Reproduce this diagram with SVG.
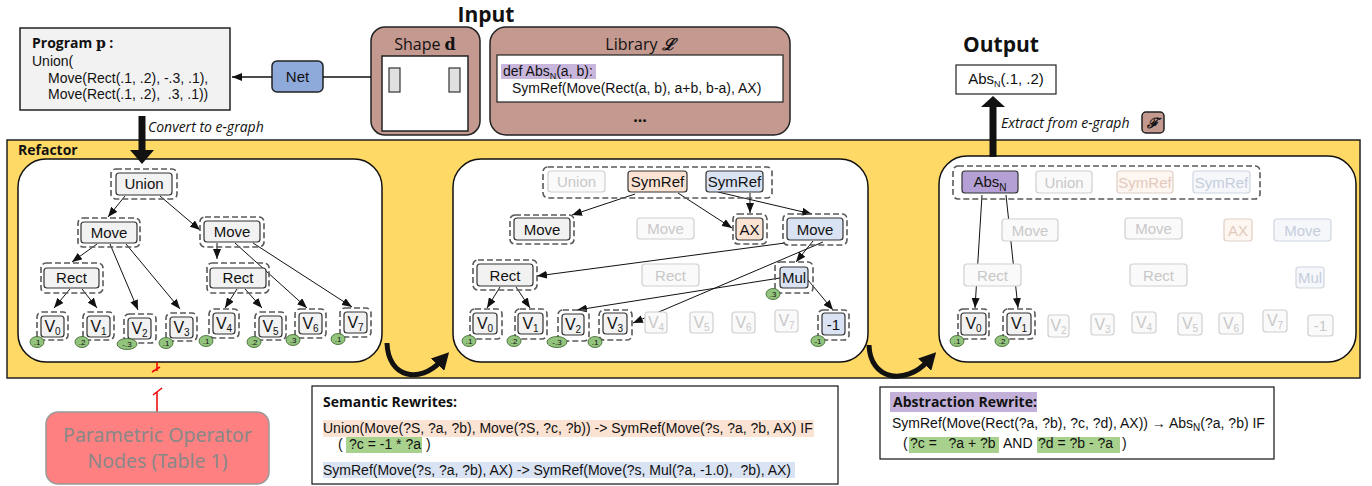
<svg xmlns="http://www.w3.org/2000/svg" width="1372" height="486" viewBox="0 0 1372 486">
<defs>
<marker id="a" markerUnits="userSpaceOnUse" markerWidth="10" markerHeight="8" refX="10" refY="4" orient="auto"><path d="M0,0 L10,4 L0,8 z" fill="#111"/></marker>
<marker id="b" markerUnits="userSpaceOnUse" markerWidth="18" markerHeight="18" refX="5" refY="9" orient="auto"><path d="M0,0 L17,9 L0,18 z" fill="#111"/></marker>
<style>
.n{fill:#f2f2f2;stroke:#333;stroke-width:1.2}
.g{fill:none;stroke:#595959;stroke-width:1.6;stroke-dasharray:6 3}
.fd{fill:#fafafa;stroke:#cfcfcf;stroke-width:1.2}
.fo{fill:#fef6f1;stroke:#e0d0c7;stroke-width:1.2}
.fb{fill:#f5f7fb;stroke:#d0d5df;stroke-width:1.2}
.o{fill:#fbe3d4;stroke:#333;stroke-width:1.2}
.bl{fill:#dae3f3;stroke:#333;stroke-width:1.2}
.t{font-family:"Liberation Sans",Arial,sans-serif;font-size:15px;text-anchor:middle;fill:#111}
.tf{fill:#c8c8c8}
.tfo{fill:#e2cabd}
.tfb{fill:#c6cedc}
.v{font-size:16px}
.e{fill:#93c47d;stroke:#38612a;stroke-width:0.8}
.et{font-family:"Liberation Sans",Arial,sans-serif;font-size:8px;text-anchor:middle;fill:#111}
.ed{fill:none;stroke:#111;stroke-width:1;marker-end:url(#a)}
.h{font-family:"Open Sans","Noto Sans",sans-serif;font-weight:bold;fill:#111}
.c{font-family:"Liberation Sans",Arial,sans-serif;font-size:14px;fill:#111}
.it{font-family:"Open Sans","Noto Sans",sans-serif;font-style:italic;font-size:14px;fill:#111}
</style>
</defs>

<g id="refactor">
<rect x="7" y="140" width="1353" height="238" fill="#ffd966" stroke="#222" stroke-width="1.5"/>
<text class="h" x="18" y="155" font-size="14">Refactor</text>
<rect x="18" y="159" width="364" height="203" rx="28" fill="#fff" stroke="#111" stroke-width="1.5"/>
<rect x="453" y="159" width="415" height="203" rx="28" fill="#fff" stroke="#111" stroke-width="1.5"/>
<rect x="939" y="156" width="417" height="206" rx="28" fill="#fff" stroke="#111" stroke-width="1.5"/>
</g>

<g id="program">
<rect x="20" y="28" width="210" height="82" fill="#f2f2f2" stroke="#222" stroke-width="1.5"/>
<text class="h" x="32" y="48" font-size="14">Program <tspan font-family="'DejaVu Serif',serif">p</tspan> :</text>
<text class="c" x="32" y="66" font-size="13">Union(</text>
<text class="c" x="48" y="83" font-size="13">Move(Rect(.1, .2), -.3, .1),</text>
<text class="c" x="48" y="99" font-size="13" xml:space="preserve">Move(Rect(.1, .2),  .3, .1))</text>
</g>
<g id="net">
<rect x="272" y="61" width="51" height="31" rx="5" fill="#8eaadb" stroke="#222" stroke-width="1.5"/>
<text class="t" x="297.5" y="82" font-size="14">Net</text>
</g>
<g id="input">
<text class="h" x="486" y="22" font-size="21" text-anchor="middle">Input</text>
</g>
<g id="shape">
<rect x="371" y="27" width="109" height="108" rx="14" fill="#c4998f" stroke="#222" stroke-width="1.5"/>
<text x="425" y="50" font-family="'Open Sans',sans-serif" font-size="16" text-anchor="middle" fill="#111">Shape <tspan font-family="'DejaVu Serif',serif" font-weight="bold">d</tspan></text>
<rect x="382" y="56" width="86" height="75" fill="#fff" stroke="#222" stroke-width="1.5"/>
<rect x="389" y="68" width="11" height="24" fill="#e0e0e0" stroke="#333" stroke-width="1.2"/>
<rect x="449" y="68" width="11" height="24" fill="#e0e0e0" stroke="#333" stroke-width="1.2"/>
</g>
<g id="library">
<rect x="490" y="27" width="300" height="108" rx="16" fill="#c4998f" stroke="#222" stroke-width="1.5"/>
<text x="640" y="50" font-family="'Open Sans',sans-serif" font-size="16" text-anchor="middle" fill="#111">Library <tspan font-family="'DejaVu Serif',serif" font-weight="bold" font-style="italic">ℒ</tspan></text>
<rect x="497" y="55" width="286" height="47" fill="#fff" stroke="#222" stroke-width="1.2"/>
<rect x="501" y="64" width="95" height="15" fill="#c9b6dd"/>
<text class="c" x="503" y="76" font-size="13">def Abs<tspan font-size="9" dy="3">N</tspan><tspan dy="-3">(a, b):</tspan></text>
<text class="c" x="512" y="93" font-size="13">SymRef(Move(Rect(a, b), a+b, b-a), AX)</text>
<text class="h" x="640" y="122" font-size="16" text-anchor="middle">...</text>
</g>
<g id="output">
<text class="h" x="1001" y="52" font-size="21" text-anchor="middle">Output</text>
<rect x="956" y="65" width="100" height="29" fill="#fff" stroke="#222" stroke-width="1.2"/>
<text class="t" x="1006" y="84" font-size="13">Abs<tspan font-size="9" dy="3">N</tspan><tspan dy="-3">(.1, .2)</tspan></text>
</g>
<g id="extractor">
<rect x="1142" y="112" width="22" height="21" rx="4" fill="#c4998f" stroke="#222" stroke-width="1.5"/>
<text x="1153" y="128" font-family="'DejaVu Serif',serif" font-weight="bold" font-style="italic" font-size="14" text-anchor="middle" fill="#111">ℱ</text>
</g>

<g id="connectors">
<line x1="371" y1="77" x2="323" y2="77" stroke="#111" stroke-width="1.5"/>
<line x1="272" y1="77" x2="232" y2="77" stroke="#111" stroke-width="1.5" marker-end="url(#a)"/>
<line x1="142" y1="116" x2="142" y2="151" stroke="#111" stroke-width="7"/>
<polygon points="130,150 154,150 142,164" fill="#111"/>
<text class="it" x="148" y="132">Convert to e-graph</text>
<line x1="993" y1="157" x2="993" y2="106" stroke="#111" stroke-width="7"/>
<polygon points="981,107 1005,107 993,96" fill="#111"/>
<text class="it" x="1001" y="128">Extract from e-graph</text>
<path d="M387,343 C388,378 420,384 441,361" fill="none" stroke="#111" stroke-width="5" marker-end="url(#b)"/>
<path d="M869,345 C870,380 905,386 928,361" fill="none" stroke="#111" stroke-width="5" marker-end="url(#b)"/>
<path d="M157,412 L157,392 M153,395 L162,388" fill="none" stroke="#e00" stroke-width="1.5"/>
<path d="M157,362 L157,371 M152,372 L160,367" fill="none" stroke="#e00" stroke-width="1.5"/>
<line class="ed" x1="125" y1="196" x2="108" y2="217"/>
<line class="ed" x1="160" y1="196" x2="200" y2="230"/>
<line class="ed" x1="97" y1="244" x2="72" y2="262"/>
<line class="ed" x1="110" y1="244" x2="138" y2="310"/>
<line class="ed" x1="126" y1="244" x2="180" y2="309"/>
<line class="ed" x1="217" y1="243" x2="217" y2="259"/>
<line class="ed" x1="235" y1="243" x2="307" y2="308"/>
<line class="ed" x1="253" y1="243" x2="352" y2="307"/>
<line class="ed" x1="70" y1="289" x2="54" y2="308"/>
<line class="ed" x1="82" y1="289" x2="97" y2="308"/>
<line class="ed" x1="237" y1="289" x2="225" y2="308"/>
<line class="ed" x1="245" y1="289" x2="262" y2="308"/>
<line class="ed" x1="635" y1="194" x2="572" y2="215"/>
<line class="ed" x1="678" y1="193" x2="732" y2="228"/>
<line class="ed" x1="750" y1="193" x2="750" y2="213"/>
<line class="ed" x1="718" y1="192" x2="812" y2="214"/>
<line class="ed" x1="785" y1="243" x2="537" y2="276"/>
<line class="ed" x1="813" y1="241" x2="796" y2="262"/>
<line class="ed" x1="823" y1="242" x2="633" y2="323"/>
<line class="ed" x1="780" y1="278" x2="577" y2="310"/>
<line class="ed" x1="808" y1="280" x2="833" y2="310"/>
<line class="ed" x1="500" y1="287" x2="487" y2="308"/>
<line class="ed" x1="516" y1="287" x2="530" y2="308"/>
<line class="ed" x1="982" y1="195" x2="975" y2="308"/>
<line class="ed" x1="1006" y1="195" x2="1018" y2="308"/>
</g>

<g id="L-union"><rect class="g" x="111" y="169" width="66" height="30" rx="5"/><rect class="n" x="116" y="173" width="56" height="22" rx="3"/><text class="t" x="144" y="189">Union</text></g>
<g id="L-move1"><rect class="g" x="78" y="218" width="62" height="29" rx="5"/><rect class="n" x="81" y="222" width="56" height="21" rx="3"/><text class="t" x="109" y="238">Move</text></g>
<g id="L-move2"><rect class="g" x="200" y="217" width="64" height="30" rx="5"/><rect class="n" x="204" y="221" width="56" height="21" rx="3"/><text class="t" x="232" y="237">Move</text></g>
<g id="L-rect1"><rect class="g" x="41" y="263" width="62" height="30" rx="5"/><rect class="n" x="44" y="268" width="55" height="20" rx="3"/><text class="t" x="71.5" y="283">Rect</text></g>
<g id="L-rect2"><rect class="g" x="207" y="263" width="62" height="30" rx="5"/><rect class="n" x="210" y="268" width="56" height="20" rx="3"/><text class="t" x="238" y="283">Rect</text></g>
<g id="L-v0"><rect class="g" x="37" y="312" width="31" height="28" rx="5"/><rect class="n" x="41" y="316" width="23" height="21" rx="3"/><text class="t v" x="52.5" y="332">V<tspan font-size="10" dy="3">0</tspan></text><ellipse class="e" cx="37" cy="342" rx="7" ry="5.5"/><text class="et" x="37" y="345">.1</text></g>
<g id="L-v1"><rect class="g" x="83" y="312" width="31" height="28" rx="5"/><rect class="n" x="87" y="316" width="23" height="21" rx="3"/><text class="t v" x="98.5" y="332">V<tspan font-size="10" dy="3">1</tspan></text><ellipse class="e" cx="82" cy="342" rx="7" ry="5.5"/><text class="et" x="82" y="345">.2</text></g>
<g id="L-v2"><rect class="g" x="124" y="314" width="32" height="29" rx="5"/><rect class="n" x="128" y="318" width="23" height="21" rx="3"/><text class="t v" x="139.5" y="334">V<tspan font-size="10" dy="3">2</tspan></text><ellipse class="e" cx="127" cy="344" rx="10" ry="5.5"/><text class="et" x="127" y="347">-.3</text></g>
<g id="L-v3"><rect class="g" x="166" y="313" width="31" height="28" rx="5"/><rect class="n" x="170" y="317" width="23" height="21" rx="3"/><text class="t v" x="181.5" y="333">V<tspan font-size="10" dy="3">3</tspan></text><ellipse class="e" cx="166" cy="343" rx="7" ry="5.5"/><text class="et" x="166" y="346">.1</text></g>
<g id="L-v4"><rect class="g" x="209" y="309" width="30" height="29" rx="5"/><rect class="n" x="213" y="313" width="22" height="21" rx="3"/><text class="t v" x="224" y="329">V<tspan font-size="10" dy="3">4</tspan></text><ellipse class="e" cx="206" cy="341" rx="7" ry="5.5"/><text class="et" x="206" y="344">.1</text></g>
<g id="L-v5"><rect class="g" x="255" y="312" width="31" height="28" rx="5"/><rect class="n" x="259" y="316" width="23" height="21" rx="3"/><text class="t v" x="270.5" y="332">V<tspan font-size="10" dy="3">5</tspan></text><ellipse class="e" cx="254" cy="342" rx="7" ry="5.5"/><text class="et" x="254" y="345">.2</text></g>
<g id="L-v6"><rect class="g" x="295" y="309" width="31" height="29" rx="5"/><rect class="n" x="299" y="313" width="23" height="21" rx="3"/><text class="t v" x="310.5" y="329">V<tspan font-size="10" dy="3">6</tspan></text><ellipse class="e" cx="293" cy="340" rx="7" ry="5.5"/><text class="et" x="293" y="343">.3</text></g>
<g id="L-v7"><rect class="g" x="340" y="308" width="31" height="29" rx="5"/><rect class="n" x="344" y="312" width="23" height="21" rx="3"/><text class="t v" x="355.5" y="328">V<tspan font-size="10" dy="3">7</tspan></text><ellipse class="e" cx="338" cy="339" rx="7" ry="5.5"/><text class="et" x="338" y="342">.1</text></g>

<g id="M-top"><rect class="g" x="543" y="167" width="229" height="31" rx="5"/>
<rect class="fd" x="548" y="171" width="57" height="21" rx="3"/><text class="t tf" x="576.5" y="187">Union</text>
<rect class="o" x="628" y="171" width="59" height="21" rx="3"/><text class="t" x="657.5" y="187" font-size="14">SymRef</text>
<rect class="bl" x="706" y="171" width="57" height="21" rx="3"/><text class="t" x="734.5" y="187" font-size="14">SymRef</text></g>
<g id="M-move1"><rect class="g" x="510" y="215" width="64" height="29" rx="5"/><rect class="n" x="514" y="218" width="56" height="22" rx="3"/><text class="t" x="542" y="235">Move</text></g>
<g id="M-move2"><rect class="fd" x="637" y="218" width="57" height="21" rx="3"/><text class="t tf" x="665.5" y="234">Move</text></g>
<g id="M-ax"><rect class="g" x="733" y="214" width="34" height="30" rx="5"/><rect class="o" x="736" y="218" width="27" height="22" rx="3"/><text class="t" x="749.5" y="235">AX</text></g>
<g id="M-move3"><rect class="g" x="783" y="214" width="64" height="31" rx="5"/><rect class="bl" x="787" y="218" width="56" height="22" rx="3"/><text class="t" x="815" y="235">Move</text></g>
<g id="M-rect1"><rect class="g" x="473" y="260" width="64" height="30" rx="5"/><rect class="n" x="477" y="264" width="56" height="22" rx="3"/><text class="t" x="505" y="281">Rect</text></g>
<g id="M-rect2"><rect class="fd" x="642" y="264" width="57" height="22" rx="3"/><text class="t tf" x="670.5" y="281">Rect</text></g>
<g id="M-mul"><rect class="g" x="775" y="262" width="38" height="31" rx="5"/><rect class="bl" x="780" y="267" width="28" height="21" rx="3"/><text class="t" x="794" y="283">Mul</text><ellipse class="e" cx="773" cy="294" rx="7" ry="5.5"/><text class="et" x="773" y="297">.3</text></g>
<g id="M-v0"><rect class="g" x="470" y="309" width="32" height="30" rx="5"/><rect class="n" x="473" y="313" width="24" height="21" rx="3"/><text class="t v" x="485" y="329">V<tspan font-size="10" dy="3">0</tspan></text><ellipse class="e" cx="469" cy="341" rx="7" ry="5.5"/><text class="et" x="469" y="344">.1</text></g>
<g id="M-v1"><rect class="g" x="515" y="309" width="32" height="30" rx="5"/><rect class="n" x="518" y="313" width="25" height="21" rx="3"/><text class="t v" x="530.5" y="329">V<tspan font-size="10" dy="3">1</tspan></text><ellipse class="e" cx="514" cy="341" rx="7" ry="5.5"/><text class="et" x="514" y="344">.2</text></g>
<g id="M-v2"><rect class="g" x="558" y="310" width="31" height="31" rx="5"/><rect class="n" x="562" y="314" width="22" height="21" rx="3"/><text class="t v" x="573" y="330">V<tspan font-size="10" dy="3">2</tspan></text><ellipse class="e" cx="557" cy="342" rx="10" ry="5.5"/><text class="et" x="557" y="345">-.3</text></g>
<g id="M-v3"><rect class="g" x="599" y="310" width="33" height="30" rx="5"/><rect class="n" x="603" y="313" width="24" height="21" rx="3"/><text class="t v" x="615" y="329">V<tspan font-size="10" dy="3">3</tspan></text><ellipse class="e" cx="595" cy="342" rx="7" ry="5.5"/><text class="et" x="595" y="345">.1</text></g>
<g id="M-v4"><rect class="fd" x="645" y="312" width="22" height="21" rx="3"/><text class="t v tf" x="656" y="328">V<tspan font-size="10" dy="3">4</tspan></text></g>
<g id="M-v5"><rect class="fd" x="690" y="312" width="23" height="21" rx="3"/><text class="t v tf" x="701.5" y="328">V<tspan font-size="10" dy="3">5</tspan></text></g>
<g id="M-v6"><rect class="fd" x="732" y="312" width="23" height="21" rx="3"/><text class="t v tf" x="743.5" y="328">V<tspan font-size="10" dy="3">6</tspan></text></g>
<g id="M-v7"><rect class="fd" x="775" y="310" width="23" height="22" rx="3"/><text class="t v tf" x="786.5" y="326">V<tspan font-size="10" dy="3">7</tspan></text></g>
<g id="M-neg1"><rect class="g" x="818" y="310" width="31" height="30" rx="5"/><rect class="bl" x="822" y="313" width="23" height="22" rx="3"/><text class="t" x="833.5" y="330">-1</text><ellipse class="e" cx="818" cy="341" rx="7" ry="5.5"/><text class="et" x="818" y="344">-1</text></g>

<g id="R-top"><rect class="g" x="953" y="166" width="307" height="33" rx="5"/>
<rect x="962" y="171" width="56" height="22" rx="3" fill="#b4a0d4" stroke="#333" stroke-width="1.2"/><text class="t" x="990" y="187">Abs<tspan font-size="10" dy="4">N</tspan></text>
<rect class="fd" x="1036" y="171" width="56" height="22" rx="3"/><text class="t tf" x="1064" y="188">Union</text>
<rect class="fo" x="1117" y="171" width="56" height="22" rx="3"/><text class="t tfo" x="1145" y="188" font-size="14">SymRef</text>
<rect class="fb" x="1193" y="171" width="57" height="22" rx="3"/><text class="t tfb" x="1221.5" y="188" font-size="14">SymRef</text></g>
<g id="R-move1"><rect class="fd" x="1002" y="219" width="56" height="22" rx="3"/><text class="t tf" x="1030" y="236">Move</text></g>
<g id="R-move2"><rect class="fd" x="1125" y="218" width="57" height="21" rx="3"/><text class="t tf" x="1153.5" y="234">Move</text></g>
<g id="R-ax"><rect class="fo" x="1224" y="219" width="28" height="22" rx="3"/><text class="t tfo" x="1238" y="236">AX</text></g>
<g id="R-move3"><rect class="fb" x="1274" y="219" width="57" height="22" rx="3"/><text class="t tfb" x="1302.5" y="236">Move</text></g>
<g id="R-rect1"><rect class="fd" x="964" y="264" width="57" height="22" rx="3"/><text class="t tf" x="992.5" y="281">Rect</text></g>
<g id="R-rect2"><rect class="fd" x="1130" y="264" width="57" height="22" rx="3"/><text class="t tf" x="1158.5" y="281">Rect</text></g>
<g id="R-mul"><rect class="fb" x="1296" y="267" width="28" height="21" rx="3"/><text class="t tfb" x="1310" y="283">Mul</text></g>
<g id="R-v0"><rect class="g" x="958" y="309" width="31" height="30" rx="5"/><rect class="n" x="961" y="313" width="25" height="22" rx="3"/><text class="t v" x="973.5" y="329">V<tspan font-size="10" dy="3">0</tspan></text><ellipse class="e" cx="957" cy="341" rx="7" ry="5.5"/><text class="et" x="957" y="344">.1</text></g>
<g id="R-v1"><rect class="g" x="1003" y="309" width="32" height="30" rx="5"/><rect class="n" x="1007" y="313" width="24" height="22" rx="3"/><text class="t v" x="1019" y="329">V<tspan font-size="10" dy="3">1</tspan></text><ellipse class="e" cx="1002" cy="341" rx="7" ry="5.5"/><text class="et" x="1002" y="344">.2</text></g>
<g id="R-v2"><rect class="fd" x="1048" y="315" width="21" height="22" rx="3"/><text class="t v tf" x="1058.5" y="331">V<tspan font-size="10" dy="3">2</tspan></text></g>
<g id="R-v3"><rect class="fd" x="1091" y="314" width="23" height="21" rx="3"/><text class="t v tf" x="1102.5" y="330">V<tspan font-size="10" dy="3">3</tspan></text></g>
<g id="R-v4"><rect class="fd" x="1132" y="312" width="24" height="21" rx="3"/><text class="t v tf" x="1144" y="328">V<tspan font-size="10" dy="3">4</tspan></text></g>
<g id="R-v5"><rect class="fd" x="1178" y="313" width="24" height="22" rx="3"/><text class="t v tf" x="1190" y="329">V<tspan font-size="10" dy="3">5</tspan></text></g>
<g id="R-v6"><rect class="fd" x="1219" y="313" width="24" height="21" rx="3"/><text class="t v tf" x="1231" y="329">V<tspan font-size="10" dy="3">6</tspan></text></g>
<g id="R-v7"><rect class="fd" x="1263" y="310" width="24" height="22" rx="3"/><text class="t v tf" x="1275" y="326">V<tspan font-size="10" dy="3">7</tspan></text></g>
<g id="R-neg1"><rect class="fd" x="1308" y="315" width="25" height="21" rx="3"/><text class="t tf" x="1320.5" y="331">-1</text></g>

<g id="parametric">
<rect x="46" y="412" width="223" height="72" rx="12" fill="#ff8080" stroke="#999" stroke-width="1.5"/>
<text x="157.5" y="442" font-family="'Noto Sans','Open Sans',sans-serif" font-size="19.5" text-anchor="middle" fill="#888">Parametric Operator</text>
<text x="157.5" y="468" font-family="'Noto Sans','Open Sans',sans-serif" font-size="19.5" text-anchor="middle" fill="#888">Nodes (Table 1)</text>
</g>
<g id="semantic">
<rect x="312" y="386" width="526" height="98" fill="#fff" stroke="#111" stroke-width="1.2"/>
<text class="h" x="323" y="407" font-size="14">Semantic Rewrites:</text>
<rect x="323" y="420" width="491" height="17" fill="#fbe3d4"/>
<text class="c" x="323" y="433">Union(Move(?S, ?a, ?b), Move(?S, ?c, ?b)) -&gt; SymRef(Move(?s, ?a, ?b, AX) IF</text>
<rect x="346" y="437" width="76" height="16" fill="#a9d18e"/>
<text class="c" x="338" y="449">(</text>
<text class="c" x="349" y="449">?c = -1 * ?a</text>
<text class="c" x="426" y="449">)</text>
<rect x="323" y="462" width="472" height="16" fill="#dae3f3"/>
<text class="c" x="323" y="475" xml:space="preserve">SymRef(Move(?s, ?a, ?b), AX) -&gt; SymRef(Move(?s, Mul(?a, -1.0),  ?b), AX)</text>
</g>
<g id="abstraction">
<rect x="880" y="387" width="394" height="72" fill="#fff" stroke="#111" stroke-width="1.2"/>
<rect x="890" y="392" width="147" height="20" fill="#c3b1d9"/>
<text class="h" x="893" y="407" font-size="14">Abstraction Rewrite:</text>
<text class="c" x="892" y="428">SymRef(Move(Rect(?a, ?b), ?c, ?d), AX)) → Abs<tspan font-size="10" dy="3">N</tspan><tspan dy="-3">(?a, ?b) IF</tspan></text>
<rect x="909" y="437" width="90" height="16" fill="#a9d18e"/>
<rect x="1037" y="437" width="83" height="16" fill="#a9d18e"/>
<text class="c" x="903" y="448">(</text>
<text class="c" x="910" y="448" xml:space="preserve">?c =   ?a + ?b</text>
<text class="c" x="1003" y="448">AND</text>
<text class="c" x="1038" y="448">?d = ?b - ?a</text>
<text class="c" x="1122" y="448">)</text>
</g>
</svg>
